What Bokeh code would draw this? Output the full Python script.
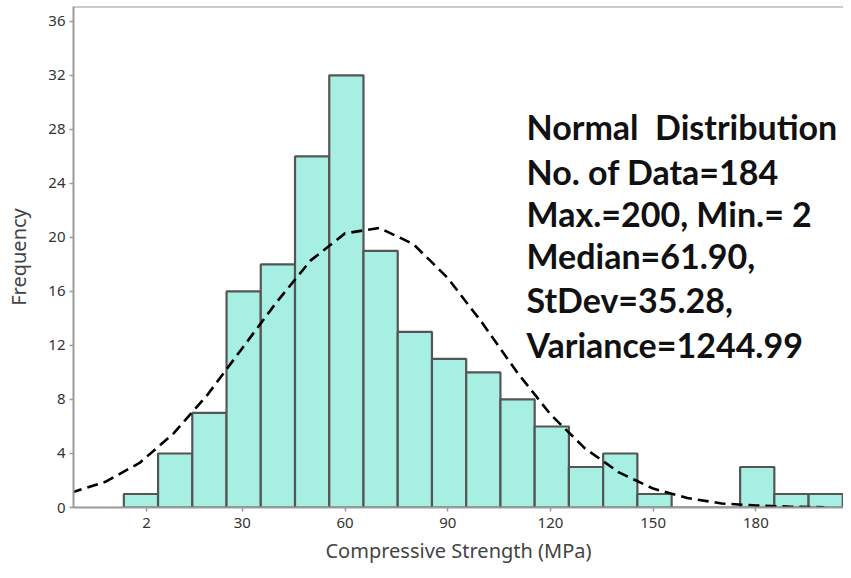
from bokeh.plotting import figure
from bokeh.models import Range1d, FixedTicker, Span, Label
from bokeh.embed import file_html
from bokeh.resources import INLINE

# ---- data ----
bin_width = 10
bin_centers = [0.4, 10.4, 20.4, 30.4, 40.4, 50.4, 60.4, 70.4, 80.4, 90.4, 100.4,
               110.4, 120.4, 130.4, 140.4, 150.4, 160.4, 170.4, 180.4, 190.4, 200.4]
counts = [1, 4, 7, 16, 18, 26, 32, 19, 13, 11, 10, 8, 6, 3, 4, 1, 0, 0, 3, 1, 1]

curve_x = [-20, -10, 0, 10, 20, 30, 40, 50, 60, 70, 80, 90, 100, 110, 120, 130,
           140, 150, 160, 170, 180, 190, 200]
curve_y = [1.1, 1.9, 3.3, 5.5, 8.4, 11.8, 15.2, 18.3, 20.3, 20.7, 19.5, 17.0, 13.7,
           10.1, 6.9, 4.4, 2.6, 1.4, 0.7, 0.3, 0.15, 0.06, 0.02]

x_ticks = [2, 30, 60, 90, 120, 150, 180]
y_ticks = [0, 4, 8, 12, 16, 20, 24, 28, 32, 36]

note_lines = ["Normal\u00a0 Distribution", "No. of Data=184", "Max.=200, Min.= 2",
              "Median=61.90,", "StDev=35.28,", "Variance=1244.99"]

# ---- figure ----
W, H = 843, 570
left, top, bottom = 73, 6, 63
x0, x1 = -19.3, 205.6
y0, y1 = 0, 37.1
p = figure(width=W, height=H, output_backend="svg", toolbar_location=None,
           x_range=Range1d(x0, x1), y_range=Range1d(y0, y1),
           min_border_left=left, min_border_right=0, min_border_top=top,
           min_border_bottom=bottom)
p.outline_line_color = None
p.background_fill_color = "white"
p.border_fill_color = "white"
p.xgrid.visible = False
p.ygrid.visible = False

p.vbar(x=bin_centers, top=counts, width=bin_width, bottom=0,
       fill_color="#a7eee3", line_color="#555555", line_width=2.2)

p.line(curve_x, curve_y, line_color="black", line_width=2.6, line_dash="11 6")

top_span = Span(location=y1, dimension="width", line_color="#9a9a9a", line_width=2)
p.add_layout(top_span)

axis_color = "#9a9a9a"
for ax in (p.xaxis[0], p.yaxis[0]):
    ax.axis_line_color = axis_color
    ax.axis_line_width = 2
    ax.major_tick_line_color = axis_color
    ax.major_tick_line_width = 1.5
    ax.major_tick_in = 0
    ax.major_tick_out = 4
    ax.minor_tick_line_color = None
    ax.major_label_text_font = "Noto Sans"
    ax.major_label_text_font_size = "15px"
    ax.major_label_text_color = "#333333"
    ax.axis_label_text_font = "Noto Sans"
    ax.axis_label_text_font_style = "normal"
    ax.axis_label_text_font_size = "20px"
    ax.axis_label_text_color = "#444444"

p.xaxis[0].ticker = FixedTicker(ticks=x_ticks)
p.yaxis[0].ticker = FixedTicker(ticks=y_ticks)
p.xaxis[0].axis_label = "Compressive Strength (MPa)"
p.yaxis[0].axis_label = "Frequency"
p.xaxis[0].major_label_standoff = 6
p.xaxis[0].axis_label_standoff = 6
p.yaxis[0].major_label_standoff = 4
p.yaxis[0].axis_label_standoff = 13

# annotation block (positions in screen pixels converted to data units)
frame_w = W - left
frame_bottom_px = H - bottom
px_per_y = (frame_bottom_px - top) / (y1 - y0)
note_x = x0 + (526 - left) * (x1 - x0) / frame_w
baseline_px = [126, 171, 213, 255, 299, 344]
for line, bpx in zip(note_lines, baseline_px):
    p.add_layout(Label(x=note_x, y=(frame_bottom_px - bpx) / px_per_y, text=line,
                       text_font="Lato", text_font_style="bold",
                       text_font_size="34px", text_color="#111111",
                       text_baseline="alphabetic", text_align="left"))

open("out.html", "w").write(file_html(p, INLINE))
